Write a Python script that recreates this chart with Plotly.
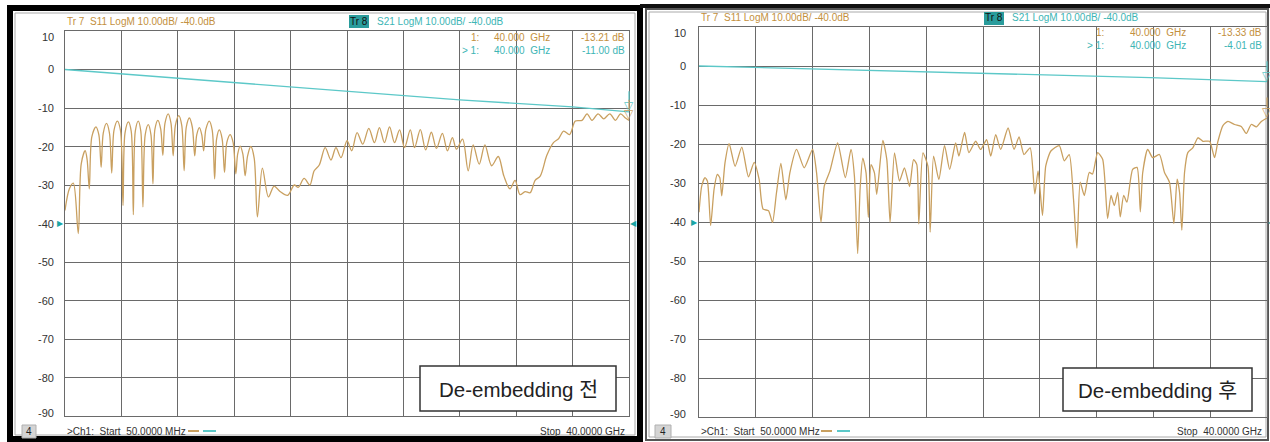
import plotly.graph_objects as go

# ---------------- data ----------------
freq_s11_before = [0.05, 0.36, 0.64, 0.99, 1.20, 1.48, 1.62, 1.77, 1.95, 2.24, 2.45, 2.61, 2.76, 2.99, 3.20,
                   3.36, 3.52, 3.76, 3.98, 4.16, 4.30, 4.54, 4.74, 4.89, 5.03, 5.24, 5.42, 5.57, 5.73,
                   5.95, 6.14, 6.28, 6.42, 6.63, 6.83, 6.98, 7.13, 7.36, 7.56, 7.71, 7.87, 8.11, 8.32,
                   8.49, 8.64, 8.86, 9.07, 9.24, 9.38, 9.57, 9.74, 9.87, 10.03, 10.27, 10.48, 10.65,
                   10.79, 10.98, 11.18, 11.35, 11.51, 11.75, 11.96, 12.15, 12.28, 12.46, 12.65, 12.81,
                   12.98, 13.21, 13.45, 13.68, 14.03, 14.46,
                   14.86, 15.28, 15.82, 16.29, 16.57, 16.99, 17.39, 17.70, 18.06, 18.48, 18.89, 19.24,
                   19.60, 20.03, 20.36, 20.74, 21.14, 21.57, 21.97, 22.32, 22.68, 23.04, 23.39, 23.75,
                   24.10, 24.51, 24.81, 25.22, 25.60, 26.00, 26.36, 26.78, 27.14, 27.49, 27.78, 28.21,
                   28.61, 28.96, 29.39, 29.79, 30.27, 30.74, 31.14, 31.57, 31.93, 32.28, 32.64, 33.00,
                   33.35, 33.71, 34.18, 34.65, 35.01, 35.37, 35.79, 36.20, 36.67, 37.03, 37.38, 37.81,
                   38.21, 38.64, 39.04, 39.40, 39.75, 40.0]
s11_before = [-36.6, -31.0, -29.5, -42.6, -24.5, -21.1, -23.5, -31.0, -17.5, -14.9, -17.0, -25.4, -16.5,
              -14.0, -16.5, -26.9, -15.8, -13.4, -15.8, -35.3, -16.5, -13.6, -16.0, -37.7, -16.0, -13.4,
              -16.0, -35.7, -17.0, -14.3, -17.0, -29.7, -15.5, -13.2, -15.5, -22.3, -14.0, -11.5, -14.0,
              -22.4, -14.5, -12.0, -14.5, -26.3, -15.0, -12.6, -15.0, -22.4, -17.0, -15.1, -17.0, -21.1,
              -15.5, -13.4, -15.8, -28.4, -18.0, -15.7, -18.0, -26.7, -19.0, -16.9, -19.0, -27.1, -22.0,
              -19.9, -22.0, -27.6, -22.5, -20.0, -23.0, -38.3, -25.6, -33.1,
              -30.3, -31.7, -32.7, -30.0, -30.6, -28.3, -30.0, -26.3, -24.8, -20.3, -23.5, -20.3,
              -22.9, -18.5, -21.1, -16.4, -19.4, -15.3, -19.0, -15.1, -19.0, -14.9, -19.0, -15.7, -20.3,
              -15.7, -20.3, -15.6, -20.9, -16.3, -20.5, -16.6, -21.1, -17.7, -20.7, -18.1, -26.3, -19.6,
              -24.6, -19.6, -25.0, -22.6, -27.7, -31.0, -28.8, -32.5, -31.7, -32.0, -28.8, -27.7, -22.3,
              -19.0, -18.0, -16.0, -16.9, -13.4, -13.2, -11.5, -13.2, -11.5, -12.8, -11.5, -13.2, -11.5,
              -12.6, -13.21]
freq_s21_before = [0.05, 8.0, 20.0, 28.0, 36.0, 40.0]
s21_before = [0.0, -2.3, -5.6, -7.9, -9.7, -11.00]

freq_s11_after = [0.05, 0.24, 0.47, 0.64, 0.87, 1.11, 1.34, 1.51, 1.65, 1.88, 2.17, 2.59, 3.06, 3.53,
                  3.93, 4.28, 4.56, 4.94, 5.22, 5.50, 5.81, 6.16, 6.44, 6.91, 7.45, 8.04, 8.32, 8.63,
                  8.86, 9.26, 9.80, 10.34, 10.74, 10.98, 11.21, 11.38, 11.57, 11.80, 11.96, 12.15,
                  12.39, 12.55, 12.98, 13.26, 13.49, 13.80, 14.15, 14.50, 14.86, 15.14, 15.37, 15.51,
                  15.80, 16.15, 16.31, 16.55, 16.92, 17.32, 17.68, 18.10, 18.33, 18.73, 19.03, 19.51,
                  19.86, 20.28, 20.57, 20.92, 21.27, 21.79, 22.21, 22.56, 22.91, 23.34, 23.67, 23.90,
                  24.21, 24.44, 24.80, 25.39, 25.74, 26.09, 26.39, 26.63, 26.86, 27.15, 27.50, 27.73,
                  28.09, 28.44, 28.79, 29.03, 29.26, 29.50, 29.68, 29.92, 30.15, 30.55, 30.86, 31.09,
                  31.26, 31.61, 31.96, 32.43, 32.79, 33.14, 33.45, 33.68, 33.85, 34.01, 34.20, 34.43,
                  34.78, 35.14, 35.49, 35.96, 36.31, 36.55, 36.90, 37.25, 37.72, 38.19, 38.54, 38.89,
                  39.25, 39.60, 40.0]
s11_after = [-37.5, -30.8, -28.6, -29.5, -40.9, -31.6, -27.8, -28.6, -33.3, -24.8, -19.9, -25.7, -20.8,
             -28.4, -24.7, -29.1, -36.7, -37.1, -40.1, -32.5, -25.0, -34.3, -27.4, -21.4, -26.1, -21.4,
             -27.4, -40.1, -30.8, -26.9, -19.7, -28.6, -21.4, -28.2, -48.1, -31.6, -23.6, -27.4, -38.8,
             -25.3, -27.4, -32.9, -19.1, -24.0, -40.1, -22.3, -29.5, -26.1, -30.9, -24.0, -25.3, -40.5,
             -22.3, -25.7, -42.6, -23.1, -29.1, -20.4, -26.5, -19.7, -23.1, -17.0, -22.2, -19.3, -21.4,
             -18.9, -23.1, -17.6, -21.4, -15.9, -21.4, -18.2, -22.7, -21.0, -32.8, -26.9, -38.3, -25.6,
             -21.8, -20.4, -24.3, -22.7, -34.1, -46.7, -29.8, -33.2, -27.3, -27.7, -22.2, -23.9, -39.1,
             -33.2, -35.8, -32.4, -38.7, -33.2, -34.9, -26.5, -26.0, -37.4, -27.3, -21.4, -23.5, -22.7,
             -27.3, -29.8, -40.4, -29.0, -32.4, -42.1, -27.3, -22.2, -21.0, -18.4, -19.3, -19.3, -23.5,
             -19.3, -15.3, -14.2, -15.0, -15.5, -17.3, -15.0, -15.6, -14.2, -13.33]
freq_s21_after = [0.05, 17.7, 31.8, 40.0]
s21_after = [0.0, -1.7, -3.0, -4.01]

y_tick_values = [10, 0, -10, -20, -30, -40, -50, -60, -70, -80, -90]
y_tick_labels = ["10", "0", "-10", "-20", "-30", "-40", "-50", "-60", "-70", "-80", "-90"]
ref_level = -40
f_start, f_stop = 0.05, 40.0

header_s11 = "Tr 7  S11 LogM 10.00dB/ -40.0dB"
header_tr8 = "Tr 8"
header_s21 = "S21 LogM 10.00dB/ -40.0dB"
status_left = ">Ch1:  Start  50.0000 MHz"
status_right = "Stop  40.0000 GHz"
panel_labels = ["De-embedding 전", "De-embedding 후"]
marker_freq_text = "40.000  GHz"

# ---------------- styles ----------------
W, H = 1270, 442
TAN = "#C9A060"
TAN_TXT = "#C39040"
CYAN = "#5CC8C8"
CYAN_TXT = "#3DB5B5"
GRID = "#6a6a6a"
NARROW = "Liberation Sans Narrow, Arial Narrow, Liberation Sans, Arial, sans-serif"
LABEL_FONT = "Liberation Sans, Arial, Noto Sans CJK KR, sans-serif"
SMALL = 10


def px(x):
    return x / W


def py(y):
    return 1 - y / H


fig = go.Figure()

panels = [
    dict(xa="x", ya="y", xd=(65, 629), yd=(31, 416),
         f11=freq_s11_before, s11=s11_before, f21=freq_s21_before, s21=s21_before,
         lab_right=56, head_y=21, tr8=(349, 369), s21_x=375,
         m_y=(37, 50), m_lab=(481, 481), m_freq=492, m_val=627, stat_y=431, box4=(22, 36),
         ch1_x=65, dash=((188, 199), (203, 216)), stop_x=627,
         kbox=(420, 366, 616, 411), label=panel_labels[0], smooth=0.9),
    dict(xa="x2", ya="y2", xd=(699, 1267), yd=(27, 417),
         f11=freq_s11_after, s11=s11_after, f21=freq_s21_after, s21=s21_after,
         lab_right=688, head_y=18, tr8=(984, 1004), s21_x=1010,
         m_y=(33, 46), m_lab=(1106, 1106), m_freq=1128, m_val=1264, stat_y=431, box4=(655, 671),
         ch1_x=699, dash=((821, 832), (837, 850)), stop_x=1264,
         kbox=(1063, 368, 1252, 411), label=panel_labels[1], smooth=0.6),
]

shapes = []
annotations = []


def text(x, y, s, color="#333", size=SMALL, xanchor="left", family=NARROW):
    annotations.append(dict(x=px(x), y=py(y), xref="paper", yref="paper", text=s, showarrow=False,
                            xanchor=xanchor, yanchor="middle", font=dict(family=family, size=size, color=color)))


# frames
shapes.append(dict(type="rect", xref="paper", yref="paper", x0=px(646), x1=px(1268), y0=py(440), y1=py(9),
                   line=dict(color="#555", width=2), fillcolor="white", layer="below"))
shapes.append(dict(type="rect", xref="paper", yref="paper", x0=px(10), x1=px(640), y0=py(439), y1=py(8),
                   line=dict(color="#000", width=6), fillcolor="white", layer="below"))
shapes.append(dict(type="line", xref="paper", yref="paper", x0=px(640), x1=px(1270), y0=py(6), y1=py(6),
                   line=dict(color="#111", width=4), layer="below"))
shapes.append(dict(type="rect", xref="paper", yref="paper", x0=px(15), x1=px(635), y0=py(435), y1=py(13),
                   line=dict(color="#aaa", width=1), layer="below"))
shapes.append(dict(type="rect", xref="paper", yref="paper", x0=px(649), x1=px(1266), y0=py(437), y1=py(12),
                   line=dict(color="#aaa", width=1), layer="below"))

for i, p in enumerate(panels):
    sfx = "" if i == 0 else "2"
    fig.add_trace(go.Scatter(x=p["f11"], y=p["s11"], mode="lines", xaxis=p["xa"], yaxis=p["ya"],
                             line=dict(color=TAN, width=1.3, shape="spline", smoothing=p["smooth"]),
                             showlegend=False, hoverinfo="skip"))
    fig.add_trace(go.Scatter(x=p["f21"], y=p["s21"], mode="lines", xaxis=p["xa"], yaxis=p["ya"],
                             line=dict(color=CYAN, width=1.3), showlegend=False, hoverinfo="skip"))
    ax = dict(domain=[px(p["xd"][0]), px(p["xd"][1])], range=[f_start, f_stop], tick0=f_start,
              dtick=(f_stop - f_start) / 10, showgrid=True, gridcolor=GRID, gridwidth=1,
              showticklabels=False, ticks="", zeroline=False, showline=True, mirror=True,
              linecolor=GRID, linewidth=1, anchor=p["ya"])
    ay = dict(domain=[py(p["yd"][1]), py(p["yd"][0])], range=[-90, 10], dtick=10, tick0=10,
              showgrid=True, gridcolor=GRID, gridwidth=1, showticklabels=False, ticks="",
              zeroline=False, showline=True, mirror=True, linecolor=GRID, linewidth=1, anchor=p["xa"])
    fig.update_layout(**{"xaxis" + sfx: ax, "yaxis" + sfx: ay})

    xr, yr = p["xa"], p["ya"]
    # y tick labels
    for v, lab in zip(y_tick_values, y_tick_labels):
        shift = 0
        if v == y_tick_values[0]:
            shift = -6
        elif v == y_tick_values[-1]:
            shift = 3
        annotations.append(dict(x=0, xref=xr + " domain", y=v, yref=yr, text=lab, showarrow=False,
                                xanchor="right", yanchor="middle", xshift=-(p["xd"][0] - p["lab_right"]),
                                yshift=shift, font=dict(family=NARROW, size=11, color="#333")))
    # reference level arrows
    annotations.append(dict(x=0, xref=xr + " domain", y=ref_level, yref=yr, text="▶", showarrow=False,
                            xanchor="right", yanchor="middle", xshift=1,
                            font=dict(family="DejaVu Sans", size=8, color="#1aa5a5")))
    annotations.append(dict(x=1, xref=xr + " domain", y=ref_level, yref=yr, text="◀", showarrow=False,
                            xanchor="left", yanchor="middle", xshift=-1,
                            font=dict(family="DejaVu Sans", size=8, color="#1aa5a5")))
    # markers at stop frequency
    for fr, vals, col in ((p["f21"], p["s21"], CYAN), (p["f11"], p["s11"], TAN)):
        annotations.append(dict(x=fr[-1], xref=xr, y=vals[-1], yref=yr, text="▽", showarrow=False,
                                xanchor="center", yanchor="bottom", yshift=-3,
                                font=dict(family="DejaVu Sans", size=12, color=col)))
        annotations.append(dict(x=fr[-1], xref=xr, y=vals[-1], yref=yr, text="", showarrow=True,
                                arrowhead=0, ax=0, ay=-22, standoff=11, arrowwidth=1.2, arrowcolor=col))

    # header
    text(p["xd"][0], p["head_y"], header_s11, TAN_TXT)
    shapes.append(dict(type="rect", xref="paper", yref="paper", x0=px(p["tr8"][0]), x1=px(p["tr8"][1]),
                       y0=py(p["head_y"] + 7), y1=py(p["head_y"] - 6), fillcolor="#2a9c9c", line=dict(width=0)))
    text((p["tr8"][0] + p["tr8"][1]) / 2, p["head_y"], header_tr8, "#111", xanchor="center")
    text(p["s21_x"], p["head_y"], header_s21, CYAN_TXT)
    # marker readouts
    text(p["m_lab"][0], p["m_y"][0], "1:", TAN_TXT, xanchor="right")
    text(p["m_freq"], p["m_y"][0], marker_freq_text, TAN_TXT)
    text(p["m_val"], p["m_y"][0], f"{p['s11'][-1]:.2f} dB", TAN_TXT, xanchor="right")
    text(p["m_lab"][1], p["m_y"][1], "> 1:", CYAN_TXT, xanchor="right")
    text(p["m_freq"], p["m_y"][1], marker_freq_text, CYAN_TXT)
    text(p["m_val"], p["m_y"][1], f"{p['s21'][-1]:.2f} dB", CYAN_TXT, xanchor="right")
    # status bar
    sy = p["stat_y"]
    shapes.append(dict(type="rect", xref="paper", yref="paper", x0=px(p["box4"][0]), x1=px(p["box4"][1]),
                       y0=py(sy + 7), y1=py(sy - 6), fillcolor="#d4d4d4", line=dict(color="#b0b0b0", width=1)))
    text((p["box4"][0] + p["box4"][1]) / 2, sy, "4", "#222", size=10, xanchor="center")
    text(p["ch1_x"], sy, status_left, "#333")
    for (d0, d1), col in zip(p["dash"], (TAN, CYAN)):
        shapes.append(dict(type="line", xref="paper", yref="paper", x0=px(d0), x1=px(d1), y0=py(sy),
                           y1=py(sy), line=dict(color=col, width=2)))
    text(p["stop_x"], sy, status_right, "#333", xanchor="right")
    # label box
    x0, y0, x1, y1 = p["kbox"]
    shapes.append(dict(type="rect", xref="paper", yref="paper", x0=px(x0), x1=px(x1), y0=py(y1), y1=py(y0),
                       fillcolor="white", line=dict(color="#333", width=1.5)))
    text((x0 + x1) / 2, (y0 + y1) / 2 + 1, p["label"], "#222", size=20.5, xanchor="center", family=LABEL_FONT)

fig.update_layout(width=W, height=H, margin=dict(l=0, r=0, t=0, b=0), paper_bgcolor="white",
                  plot_bgcolor="rgba(0,0,0,0)", shapes=shapes, annotations=annotations, showlegend=False)

fig.write_html("out.html", config={"displayModeBar": False},
               post_script="document.body.style.margin='0';document.body.style.overflow='hidden';")
